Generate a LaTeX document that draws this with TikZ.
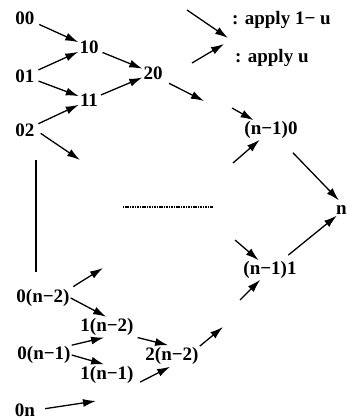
\documentclass[tikz,border=0pt]{standalone}
\usepackage{fontspec}
\setmainfont{Liberation Serif}
\usetikzlibrary{arrows.meta}
\begin{document}
\begin{tikzpicture}[x=1pt,y=-1pt,
  lbl/.style={font=\fontsize{19}{22}\selectfont\bfseries, inner sep=1pt},
  arr/.style={line width=1.3pt, -{Latex[length=13pt,width=8pt]}},
]
\useasboundingbox (0,0) rectangle (347,420);
% nodes
\node[lbl] (n00) at (25,18) {00};
\node[lbl] (n01) at (25,76) {01};
\node[lbl] (n02) at (25,130) {02};
\node[lbl] (n10) at (89,47) {10};
\node[lbl] (n11) at (89,100) {11};
\node[lbl] (n20) at (153,73) {20};
\node[lbl] (m10) at (271,130) {(n−1)0};
\node[lbl] (m11) at (270,270) {(n−1)1};
\node[lbl,anchor=west] (mn0) at (335,208) {n0};
\node[lbl] (a) at (43,298) {0(n−2)};
\node[lbl] (b) at (107,327) {1(n−2)};
\node[lbl] (c) at (44,355) {0(n−1)};
\node[lbl] (d) at (172,356) {2(n−2)};
\node[lbl] (e) at (107,375) {1(n−1)};
\node[lbl] (f) at (25,410) {0n};
\node[lbl,anchor=west] (t1) at (231,20) {: apply 1− u};
\node[lbl,anchor=west] (t2) at (234,58) {: apply u};
% free ends
\coordinate (p02) at (80,160);
\coordinate (p20) at (204,101);
\coordinate (l1s) at (187,10);
\coordinate (l1e) at (228,38);
\coordinate (l2s) at (192,63);
\coordinate (l2e) at (224,44);
\coordinate (q1) at (232,108);
\coordinate (q2) at (233,163);
\coordinate (q3) at (235,240);
\coordinate (q4) at (240,300);
\coordinate (pa) at (103,268);
\coordinate (pd) at (223,327);
\coordinate (fe) at (96,401);
\coordinate (v1) at (36,160);
\coordinate (v2) at (36,272);
\coordinate (h1) at (123,207);
\coordinate (h2) at (213,207);
% arrows
\draw[arr, shorten <=4pt] (n00) -- (n10);
\draw[arr, shorten <=3pt] (n01) -- (n10);
\draw[arr, shorten <=3pt] (n01) -- (n11);
\draw[arr, shorten <=3pt] (n02) -- (n11);
\draw[arr, shorten <=6pt] (n02.east) -- (p02);
\draw[arr, shorten <=3pt] (n10) -- (n20);
\draw[arr, shorten <=2pt] (n11) -- (n20);
\draw[arr, shorten <=6pt] (n20.south east) -- (p20);
\draw[arr] (l1s) -- (l1e);
\draw[arr] (l2s) -- (l2e);
\draw[arr] (q1) -- (m10);
\draw[arr] (q2) -- (m10);
\draw[arr, shorten <=18pt] (m10) -- (mn0);
\draw[arr] (q3) -- (m11);
\draw[arr] (q4) -- (m11);
\draw[arr, shorten <=8pt] (m11) -- (mn0);
\draw[arr, shorten <=3pt] (a.north east) -- (pa);
\draw[arr, shorten >=1pt] (a.east) -- (b.north);
\draw[arr, shorten <=3pt, shorten >=4pt] (b.south east) -- (d.north);
\draw[arr, shorten >=3pt] (c.north east) -- (b.south);
\draw[arr, shorten >=3pt] (c.east) -- (e.north);
\draw[arr, shorten <=6pt, shorten >=2pt] (e.south east) -- (d.south);
\draw[arr, shorten <=9pt] (f.east) -- (fe);
\draw[arr] (d.north east) -- (pd);
% lines
\draw[line width=1.4pt] (v1) -- (v2);
\draw[line width=2.6pt, dash pattern=on 1.1pt off 0.6pt] (h1) -- (h2);
\end{tikzpicture}
\end{document}
